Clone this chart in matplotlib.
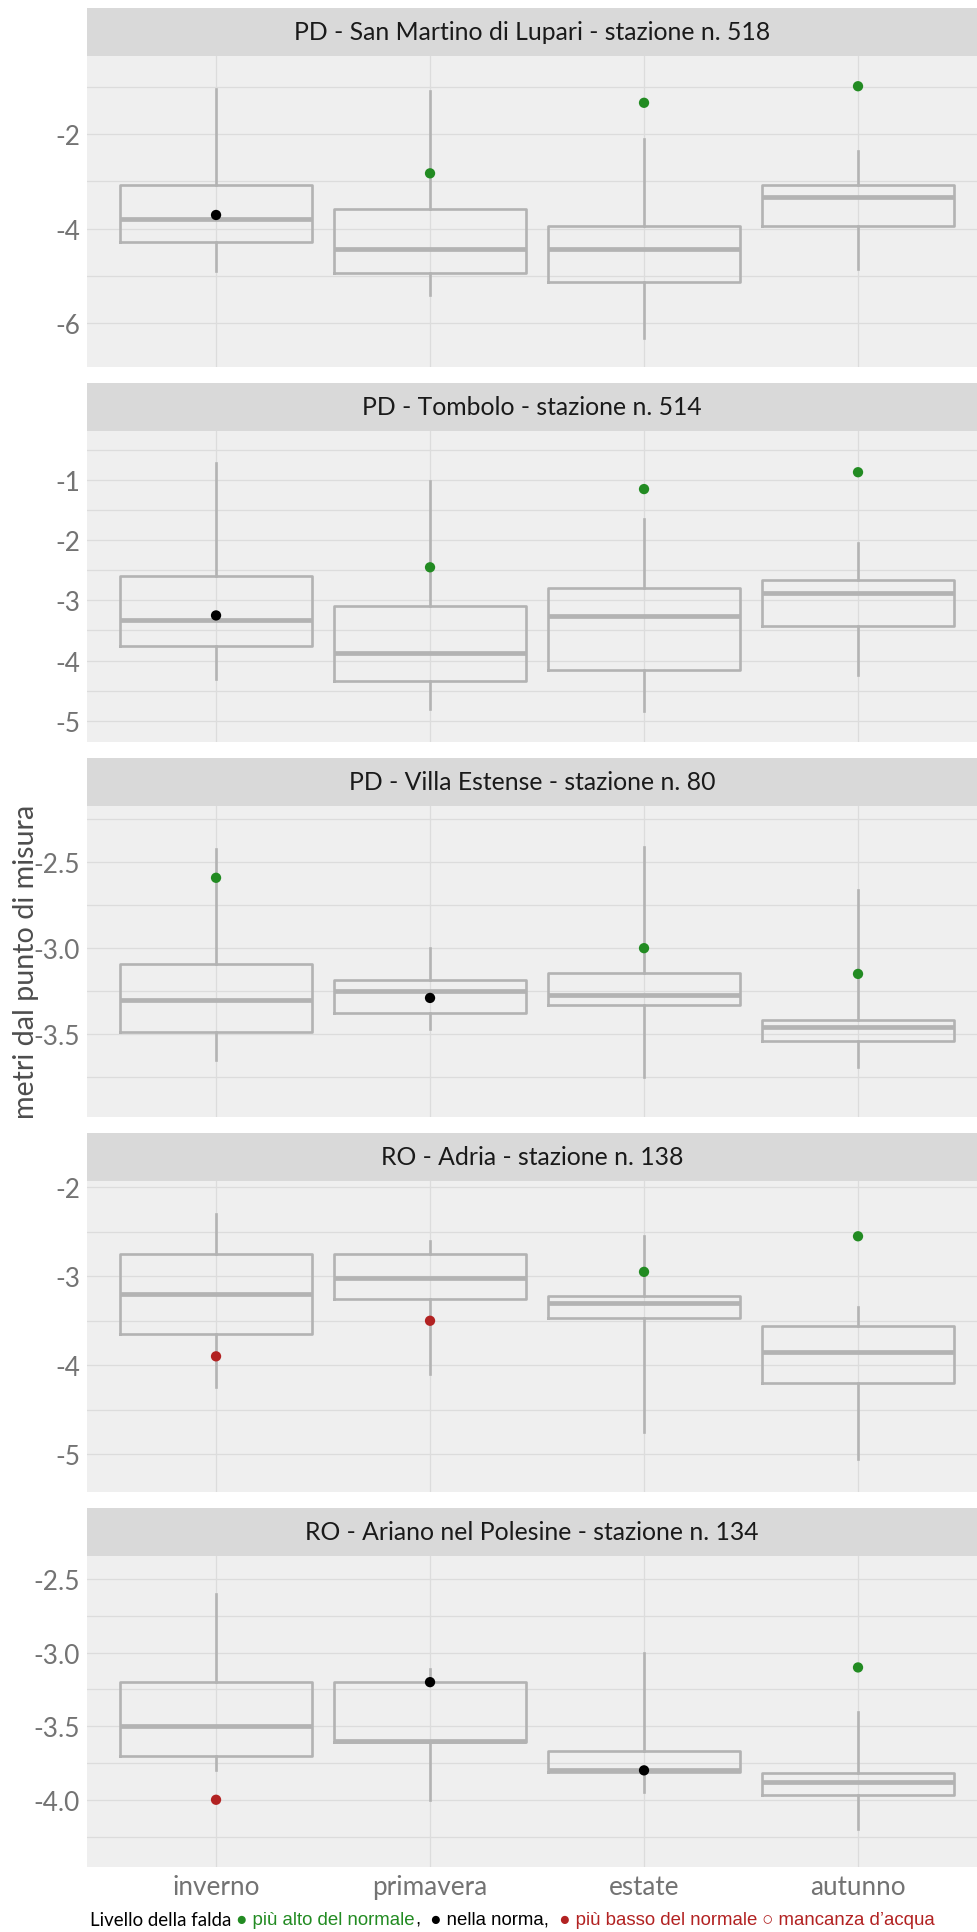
import numpy as np
import matplotlib.pyplot as plt
from matplotlib.ticker import FormatStrFormatter

plt.rcParams['font.family'] = ['Lato', 'DejaVu Sans']
plt.rcParams['axes.unicode_minus'] = False

stagioni = ["inverno", "primavera", "estate", "autunno"]
stazioni = ["PD - San Martino di Lupari - stazione n. 518",
            "PD - Tombolo - stazione n. 514",
            "PD - Villa Estense - stazione n. 80",
            "RO - Adria - stazione n. 138",
            "RO - Ariano nel Polesine - stazione n. 134"]

# San Martino di Lupari
sm_low = [-4.90, -5.39, -6.30, -4.85]
sm_q1 = [-4.28, -4.94, -5.13, -3.95]
sm_med = [-3.80, -4.42, -4.42, -3.32]
sm_q3 = [-3.07, -3.59, -3.95, -3.08]
sm_high = [-1.05, -1.10, -2.11, -2.35]
sm_oggi = [-3.71, -2.83, -1.34, -0.99]
sm_stato = ["norma", "alto", "alto", "alto"]

# Tombolo
to_low = [-4.31, -4.80, -4.84, -4.24]
to_q1 = [-3.75, -4.34, -4.16, -3.42]
to_med = [-3.33, -3.88, -3.26, -2.88]
to_q3 = [-2.60, -3.09, -2.80, -2.66]
to_high = [-0.71, -1.02, -1.65, -2.05]
to_oggi = [-3.25, -2.45, -1.15, -0.87]
to_stato = ["norma", "alto", "alto", "alto"]

# Villa Estense
ve_low = [-3.65, -3.47, -3.75, -3.69]
ve_q1 = [-3.49, -3.38, -3.33, -3.54]
ve_med = [-3.30, -3.25, -3.27, -3.46]
ve_q3 = [-3.095, -3.186, -3.145, -3.42]
ve_high = [-2.42, -3.00, -2.41, -2.66]
ve_oggi = [-2.59, -3.29, -3.00, -3.15]
ve_stato = ["alto", "norma", "alto", "alto"]

# Adria
ad_low = [-4.25, -4.10, -4.75, -5.05]
ad_q1 = [-3.65, -3.26, -3.47, -4.20]
ad_med = [-3.20, -3.02, -3.30, -3.85]
ad_q3 = [-2.75, -2.75, -3.22, -3.56]
ad_high = [-2.30, -2.60, -2.55, -3.35]
ad_oggi = [-3.90, -3.50, -2.95, -2.55]
ad_stato = ["basso", "basso", "alto", "alto"]

# Ariano nel Polesine
ar_low = [-3.80, -4.00, -3.95, -4.20]
ar_q1 = [-3.70, -3.61, -3.81, -3.97]
ar_med = [-3.50, -3.60, -3.80, -3.88]
ar_q3 = [-3.20, -3.20, -3.67, -3.82]
ar_high = [-2.60, -3.11, -3.00, -3.40]
ar_oggi = [-4.00, -3.20, -3.80, -3.10]
ar_stato = ["basso", "norma", "norma", "alto"]

dati = [
    (sm_low, sm_q1, sm_med, sm_q3, sm_high, sm_oggi, sm_stato),
    (to_low, to_q1, to_med, to_q3, to_high, to_oggi, to_stato),
    (ve_low, ve_q1, ve_med, ve_q3, ve_high, ve_oggi, ve_stato),
    (ad_low, ad_q1, ad_med, ad_q3, ad_high, ad_oggi, ad_stato),
    (ar_low, ar_q1, ar_med, ar_q3, ar_high, ar_oggi, ar_stato),
]

ylims = [(-6.93, -0.345), (-5.36, -0.18), (-3.986, -2.17), (-5.43, -1.925), (-4.46, -2.34)]
major = [[-6, -4, -2], [-5, -4, -3, -2, -1], [-3.5, -3.0, -2.5],
         [-5, -4, -3, -2], [-4.0, -3.5, -3.0, -2.5]]
minor = [[-5, -3, -1], [-4.5, -3.5, -2.5, -1.5, -0.5], [-3.75, -3.25, -2.75, -2.25],
         [-4.5, -3.5, -2.5], [-4.25, -3.75, -3.25, -2.75]]
fmt = ['%d', '%d', '%.1f', '%d', '%.1f']

colori = {"alto": "#228B22", "norma": "black", "basso": "#B22222"}
grigio = "#b3b3b3"

W, H = 977, 1933
fig = plt.figure(figsize=(W / 100, H / 100), dpi=100)
left_px, right_px = 87, 977
strip_h, plot_h = 47.7, 311.7

pos = np.arange(len(stagioni))
for i, titolo in enumerate(stazioni):
    low, q1, med, q3, high, oggi, stato = dati[i]
    top = 9 + 375 * i
    ax = fig.add_axes([left_px / W, 1 - (top + strip_h + plot_h) / H,
                       (right_px - left_px) / W, plot_h / H])
    sax = fig.add_axes([left_px / W, 1 - (top + strip_h) / H,
                        (right_px - left_px) / W, strip_h / H])
    sax.set_facecolor("#d9d9d9")
    sax.set_xticks([])
    sax.set_yticks([])
    for s in sax.spines.values():
        s.set_visible(False)
    sax.text(0.5, 0.5, titolo, ha="center", va="center", fontsize=17.8, color="#1a1a1a",
             transform=sax.transAxes)

    ax.set_facecolor("#efefef")
    for s in ax.spines.values():
        s.set_visible(False)
    stats = [dict(whislo=low[k], q1=q1[k], med=med[k], q3=q3[k], whishi=high[k], fliers=[])
             for k in range(len(stagioni))]
    ax.bxp(stats, positions=pos, widths=0.9, showcaps=False, showfliers=False,
           boxprops=dict(color=grigio, linewidth=1.9),
           whiskerprops=dict(color=grigio, linewidth=1.9),
           medianprops=dict(color=grigio, linewidth=3.4, solid_capstyle="butt"),
           manage_ticks=False, zorder=2)
    ax.scatter(pos, oggi, c=[colori[s] for s in stato], s=55, zorder=3, linewidths=0)

    ax.set_xlim(-0.603, 3.556)
    ax.set_ylim(*ylims[i])
    ax.set_xticks(pos)
    ax.set_yticks(major[i])
    ax.set_yticks(minor[i], minor=True)
    ax.yaxis.set_major_formatter(FormatStrFormatter(fmt[i]))
    ax.grid(True, which="both", color="#dcdcdc", linewidth=0.9, zorder=0)
    ax.set_axisbelow(True)
    ax.tick_params(which="both", length=0, labelsize=18.8, labelcolor="#737373", pad=5)
    if i < len(stazioni) - 1:
        ax.set_xticklabels([])
    else:
        ax.set_xticklabels(stagioni)
    ultimo = ax

fig.text(26 / W, 1 - 962 / H, "metri dal punto di misura", rotation=90, ha="center",
         va="center", fontsize=20.6, color="#4d4d4d")

# didascalia in basso, pezzi colorati uno dopo l'altro
fs = 13.4
arial = ["Liberation Sans", "DejaVu Sans"]
t = fig.text(90 / W, 1 - 1929 / H, "Livello della falda", fontsize=fs, color="black",
             va="bottom", ha="left")
pezzi = [(" \u25cf più alto del normale", "#228B22"), (",", "black"),
         ("  \u25cf nella norma,", "black"), ("  \u25cf più basso del normale", "#B22222"),
         (" \u25cb mancanza d\u2019acqua", "#B22222")]
for testo, col in pezzi:
    t = ultimo.annotate(testo, xy=(1, 0), xycoords=t, va="bottom", ha="left",
                        fontsize=fs, color=col, family=arial, annotation_clip=False)

fig.savefig("out.png", dpi=100)
